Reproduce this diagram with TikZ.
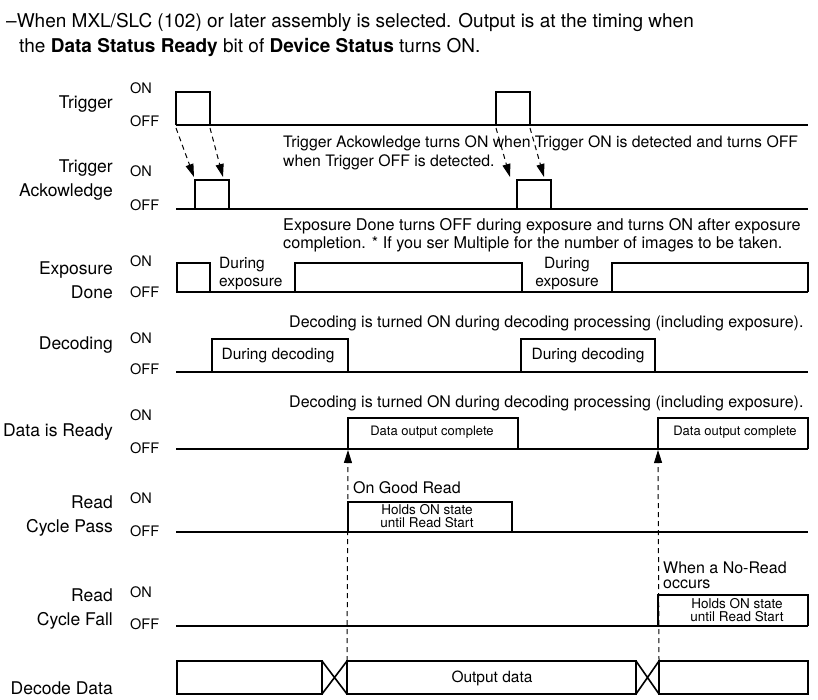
\documentclass[tikz,border=0pt]{standalone}
\usepackage{fontspec}
\setmainfont{TeX Gyre Heros}
\usetikzlibrary{arrows.meta, positioning}
\tikzset{
    signame/.style={anchor=east, align=right, inner sep=0pt, font=\fontsize{17.5}{23.5}\selectfont},
    level/.style={anchor=west, inner sep=0pt, font=\fontsize{14.5}{16}\selectfont},
    note/.style={anchor=west, align=left, inner sep=0pt, font=\fontsize{16}{18.5}\selectfont},
    boxtext/.style={inner sep=0pt, align=center, font=\fontsize{15.5}{18}\selectfont},
    smalltext/.style={inner sep=0pt, align=center, font=\fontsize{13}{15}\selectfont},
    tinytext/.style={inner sep=0pt, align=center, font=\fontsize{13.5}{13}\selectfont},
    offline/.style={line width=2.6pt},
    pulse/.style={line width=1.1pt},
    crossing/.style={line width=1.6pt},
    dashedline/.style={-{Triangle[length=13pt,width=8pt]}, dash pattern=on 5pt off 4pt, line width=1pt},
    guide/.style={dash pattern=on 5pt off 4pt, line width=1pt}
}

\begin{document}
\begin{tikzpicture}[x=1pt, y=-1pt]
\useasboundingbox (0,0) rectangle (818,699);

% heading
\node[anchor=west, inner sep=0pt, font=\fontsize{19}{23}\selectfont] (head1) at (6,22) {–When MXL/SLC (102) or later assembly is selected. Output is at the timing when};
\node[anchor=west, inner sep=0pt, font=\fontsize{19}{23}\selectfont] (head2) at (19,47) {the \textbf{Data Status Ready} bit of \textbf{Device Status} turns ON.};

% signal names
\node[signame] (trig) at (113,104) {Trigger};
\node[signame] (ack) at (113,180) {Trigger\\Ackowledge};
\node[signame] (exp) at (113,280) {Exposure\\Done};
\node[signame] (dec) at (113,345) {Decoding};
\node[signame] (rdy) at (113,432) {Data is Ready};
\node[signame] (pass) at (113,516) {Read\\Cycle Pass};
\node[signame] (fall) at (113,609) {Read\\Cycle Fall};
\node[signame] (ddata) at (113,688) {Decode Data};

% ON / OFF levels
\node[level] (trig-on) at (130,88) {ON};
\node[level] (trig-off) at (130,121) {OFF};
\node[level] (ack-on) at (130,171) {ON};
\node[level] (ack-off) at (130,205) {OFF};
\node[level] (exp-on) at (130,261) {ON};
\node[level] (exp-off) at (130,292) {OFF};
\node[level] (dec-on) at (130,338) {ON};
\node[level] (dec-off) at (130,369) {OFF};
\node[level] (rdy-on) at (130,415) {ON};
\node[level] (rdy-off) at (130,448) {OFF};
\node[level] (pass-on) at (130,498) {ON};
\node[level] (pass-off) at (130,531) {OFF};
\node[level] (fall-on) at (130,592) {ON};
\node[level] (fall-off) at (130,624) {OFF};

% OFF lines
\foreach \y in {125,209,292,372,449,532,626}
    \draw[offline] (176,\y) -- (808,\y);

% pulses
\draw[pulse] (176,125) |- (210,92) -- (210,125);
\draw[pulse] (496,125) |- (530,92) -- (530,125);
\draw[pulse] (195,209) |- (229,180) -- (229,209);
\draw[pulse] (517,209) |- (551,180) -- (551,209);
\draw[pulse] (177,292) |- (210,263) -- (210,292);
\draw[pulse] (295,292) |- (522,263) -- (522,292);
\draw[pulse] (612,292) |- (808,263) -- (808,292);
\draw[pulse] (212,372) |- (348,339) -- (348,372);
\draw[pulse] (521,372) |- (655,339) -- (655,372);
\draw[pulse] (348,449) |- (518,418) -- (518,449);
\draw[pulse] (658,449) |- (808,418) -- (808,449);
\draw[pulse] (348,532) |- (512,502) -- (512,532);
\draw[pulse] (658,626) |- (808,595) -- (808,626);

% decode data
\draw[pulse] (177,661) rectangle (322,694);
\draw[pulse] (347,661) rectangle (636,694);
\draw[pulse] (659,661) rectangle (808,694);
\draw[offline] (177,694) -- (322,694) (347,694) -- (636,694) (659,694) -- (808,694);
\draw[crossing] (322,661) -- (347,694) (322,694) -- (347,661);
\draw[crossing] (636,661) -- (659,694) (636,694) -- (659,661);

% texts on the signals
\node[note, font=\fontsize{15.8}{19}\selectfont] (ack-note) at (283,152.5) {Trigger Ackowledge turns ON when Trigger ON is detected and turns OFF\\when Trigger OFF is detected.};
\node[note, font=\fontsize{16.2}{18}\selectfont] (exp-note) at (283,235) {Exposure Done turns OFF during exposure and turns ON after exposure\\completion. * If you ser Multiple for the number of images to be taken.};
\node[boxtext, anchor=west, align=left] (exp-txt1) at (219,274) {During\\exposure};
\node[boxtext] (exp-txt2) at (567,274) {During\\exposure};
\node[note] (dec-note) at (289,323) {Decoding is turned ON during decoding processing (including exposure).};
\node[boxtext] (dec-txt1) at (278,356) {During decoding};
\node[boxtext] (dec-txt2) at (588,356) {During decoding};
\node[note] (rdy-note) at (289,403) {Decoding is turned ON during decoding processing (including exposure).};
\node[smalltext] (rdy-txt1) at (432,432) {Data output complete};
\node[smalltext] (rdy-txt2) at (735,432) {Data output complete};
\node[note] (pass-note) at (353,488) {On Good Read};
\node[tinytext] (pass-txt) at (427,516) {Holds ON state\\until Read Start};
\node[note, font=\fontsize{16}{15}\selectfont] (fall-note) at (663,575) {When a No-Read\\occurs};
\node[tinytext] (fall-txt) at (737,610) {Holds ON state\\until Read Start};
\node[boxtext] (out-txt) at (492,678) {Output data};

% trigger to acknowledge
\coordinate (trig-up1) at (176,128);
\coordinate (trig-dn1) at (210,128);
\coordinate (trig-up2) at (496,128);
\coordinate (trig-dn2) at (530,128);
\coordinate (ack-up1) at (194,177);
\coordinate (ack-dn1) at (223,177);
\coordinate (ack-up2) at (510,177);
\coordinate (ack-dn2) at (544,177);
\draw[dashedline] (trig-up1) -- (ack-up1);
\draw[dashedline] (trig-dn1) -- (ack-dn1);
\draw[dashedline] (trig-up2) -- (ack-up2);
\draw[dashedline] (trig-dn2) -- (ack-dn2);

% output timing
\coordinate (rdy-up1) at (348,450);
\coordinate (rdy-up2) at (658,450);
\coordinate (out-start1) at (347,661);
\coordinate (out-start2) at (659,661);
\draw[dashedline] (out-start1) -- (rdy-up1);
\draw[dashedline] (out-start2) -- (rdy-up2);
\end{tikzpicture}
\end{document}
